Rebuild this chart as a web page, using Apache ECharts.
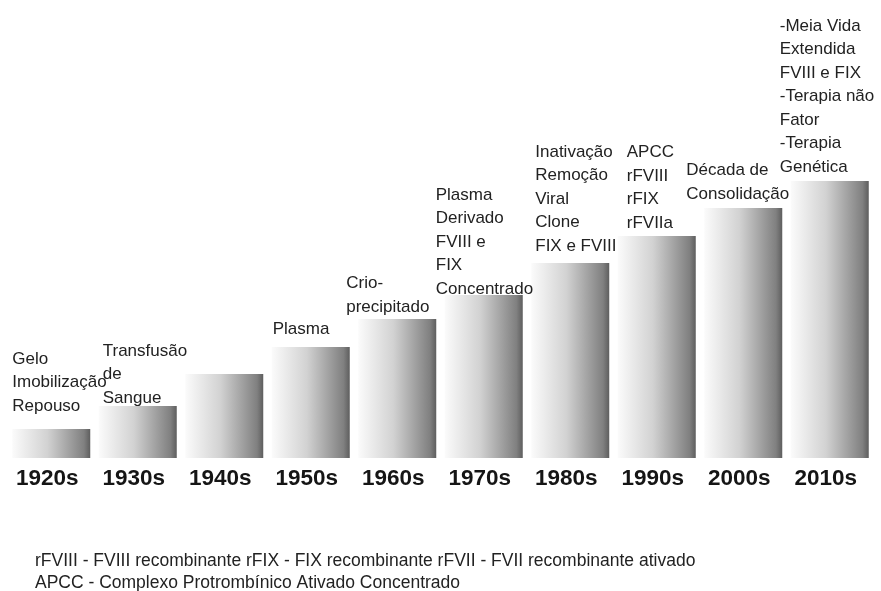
<!DOCTYPE html>
<html>
<head>
<meta charset="utf-8">
<script src="https://cdn.jsdelivr.net/npm/echarts@6/dist/echarts.min.js"></script>
<style>
  html, body { margin: 0; padding: 0; background: #ffffff; }
  #chart { width: 881px; height: 591px; }
</style>
</head>
<body>
<div id="chart"></div>
<script>
// Decades of haemophilia treatment, each step higher than the last
const decades = ['1920s', '1930s', '1940s', '1950s', '1960s', '1970s', '1980s', '1990s', '2000s', '2010s'];
const stepHeights = [29, 52, 84, 111, 139, 163, 195, 222, 250, 277];
const milestones = [
  'Gelo\nImobilização\nRepouso',
  'Transfusão\nde\nSangue',
  '',
  'Plasma',
  'Crio-\nprecipitado',
  'Plasma\nDerivado\nFVIII e\nFIX\nConcentrado',
  'Inativação\nRemoção\nViral\nClone\nFIX e FVIII',
  'APCC\nrFVIII\nrFIX\nrFVIIa',
  'Década de\nConsolidação',
  '-Meia Vida\nExtendida\nFVIII e FIX\n-Terapia não\nFator\n-Terapia\nGenética'
];
const footnotes = [
  'rFVIII - FVIII recombinante rFIX - FIX recombinante rFVII - FVII recombinante ativado',
  'APCC - Complexo Protrombínico Ativado Concentrado'
];

// label placement tweaks: [dx from bar left, lift above bar top]
const labelShift = [[0, 11], [4, -4], [0, 0], [1, 6], [-12, 0], [-9, -6], [4, 5], [9, 1], [-18, 2], [-11, 2]];

const fontFamily = '"Liberation Sans", Arial, sans-serif';

const barFill = new echarts.graphic.LinearGradient(0, 0, 1, 0, [
  { offset: 0, color: '#fbfbfb' },
  { offset: 0.45, color: '#d2d2d2' },
  { offset: 0.92, color: '#808080' },
  { offset: 1, color: '#5e5e5e' }
]);

const seriesData = stepHeights.map((v, i) => ({
  value: v,
  label: {
    show: milestones[i] !== '',
    formatter: milestones[i],
    position: [labelShift[i][0], -labelShift[i][1]],
    align: 'left',
    verticalAlign: 'bottom'
  }
}));

const chart = echarts.init(document.getElementById('chart'), null, { renderer: 'canvas' });
chart.setOption({
  backgroundColor: '#ffffff',
  animation: false,
  grid: { left: 8, right: 8, top: 0, bottom: 133, containLabel: false },
  xAxis: {
    type: 'category',
    data: decades,
    axisLine: { show: false },
    axisTick: { show: false },
    axisLabel: {
      margin: 9,
      color: '#151515',
      fontFamily: fontFamily,
      fontWeight: 'bold',
      fontSize: 22.5,
      padding: [0, 8, 0, 0]
    }
  },
  yAxis: {
    type: 'value',
    min: 0,
    max: 458,
    show: false,
    splitLine: { show: false }
  },
  series: [{
    type: 'bar',
    barWidth: 78,
    data: seriesData,
    itemStyle: { color: barFill },
    label: {
      color: '#222222',
      fontFamily: fontFamily,
      fontSize: 17,
      lineHeight: 23.5
    }
  }],
  graphic: footnotes.map((t, i) => ({
    type: 'text',
    left: 35,
    top: 552 + i * 22,
    style: {
      text: t,
      fill: '#222222',
      font: '17.5px ' + fontFamily
    }
  }))
});
</script>
</body>
</html>
